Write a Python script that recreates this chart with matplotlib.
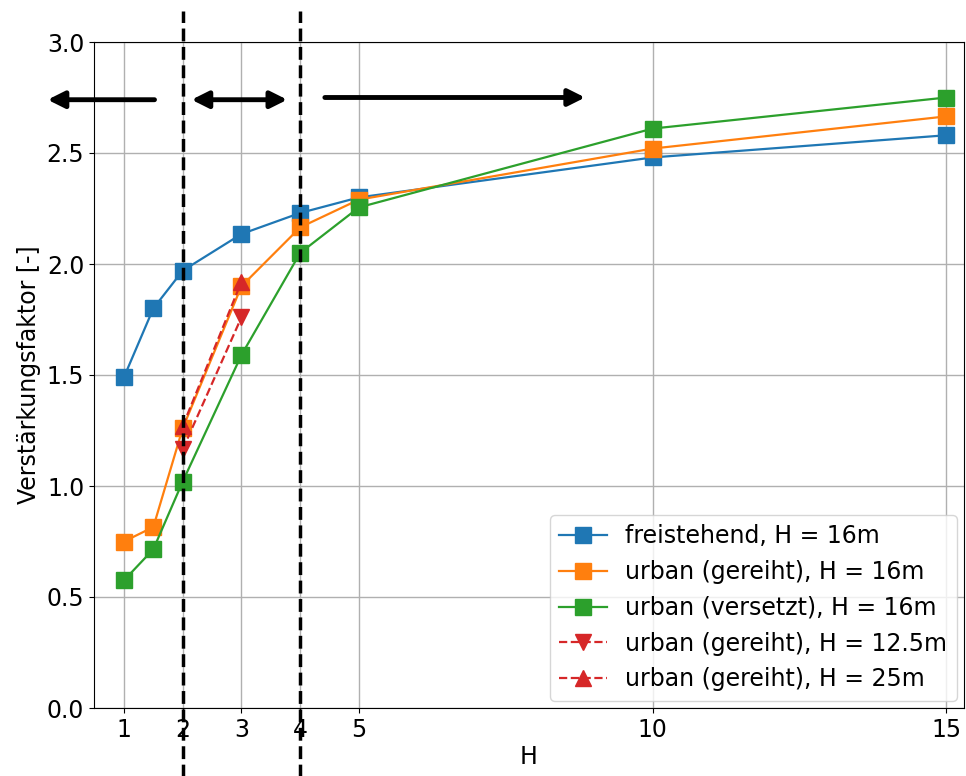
import numpy as np
import matplotlib
matplotlib.use('Agg')
import matplotlib.pyplot as plt

# H values (x) and amplification factors
h = [1, 1.5, 2, 3, 4, 5, 10, 15]
freistehend = [1.49, 1.80, 1.97, 2.135, 2.23, 2.30, 2.48, 2.58]
gereiht = [0.75, 0.815, 1.26, 1.90, 2.165, 2.29, 2.52, 2.665]
versetzt = [0.575, 0.715, 1.02, 1.59, 2.05, 2.255, 2.61, 2.75]

h_red = [2, 3]
gereiht_125 = [1.165, 1.76]
gereiht_25 = [1.27, 1.92]

xticks = [1, 2, 3, 4, 5, 10, 15]

plt.rcParams['font.size'] = 17

fig = plt.figure(figsize=(9.66, 7.76), dpi=100)
ax = fig.add_axes([94 / 966, 1 - 708 / 776, (964 - 94) / 966, (708 - 42) / 776])

ax.plot(h, freistehend, 's-', color='tab:blue', ms=11, lw=1.6,
        label='freistehend, H = 16m')
ax.plot(h, gereiht, 's-', color='tab:orange', ms=11, lw=1.6,
        label='urban (gereiht), H = 16m')
ax.plot(h, versetzt, 's-', color='tab:green', ms=11, lw=1.6,
        label='urban (versetzt), H = 16m')
ax.plot(h_red, gereiht_125, 'v--', color='tab:red', ms=11, lw=1.6,
        label='urban (gereiht), H = 12.5m')
ax.plot(h_red, gereiht_25, '^--', color='tab:red', ms=11, lw=1.6,
        label='urban (gereiht), H = 25m')

# region borders, drawn beyond the axes
for xv in [2, 4]:
    ax.vlines(xv, -0.31, 3.14, colors='k', linestyles='--', lw=2.5,
              clip_on=False, zorder=5)

# arrows marking the ranges
arrow = dict(arrowstyle='-|>', color='k', lw=3.5, mutation_scale=25,
             shrinkA=0, shrinkB=0)
ax.annotate('', xy=(-0.3, 2.74), xytext=(1.52, 2.74), arrowprops=arrow,
            annotation_clip=False)
ax.annotate('', xy=(3.78, 2.74), xytext=(2.15, 2.74),
            arrowprops=dict(arrow, arrowstyle='<|-|>'), annotation_clip=False)
ax.annotate('', xy=(8.85, 2.75), xytext=(4.42, 2.75), arrowprops=arrow,
            annotation_clip=False)

ax.set_xlim(0.49, 15.3)
ax.set_ylim(0, 3.0)
ax.set_xticks(xticks)
ax.set_yticks(np.arange(0, 3.01, 0.5))
ax.grid(True, color='#b0b0b0', lw=1)
ax.set_axisbelow(True)
ax.set_xlabel('H', labelpad=2)
ax.set_ylabel('Verstärkungsfaktor [-]')
ax.legend(loc='lower right', fontsize=17, handlelength=2.0,
          borderaxespad=0.3)

fig.savefig('out.png', dpi=100)
